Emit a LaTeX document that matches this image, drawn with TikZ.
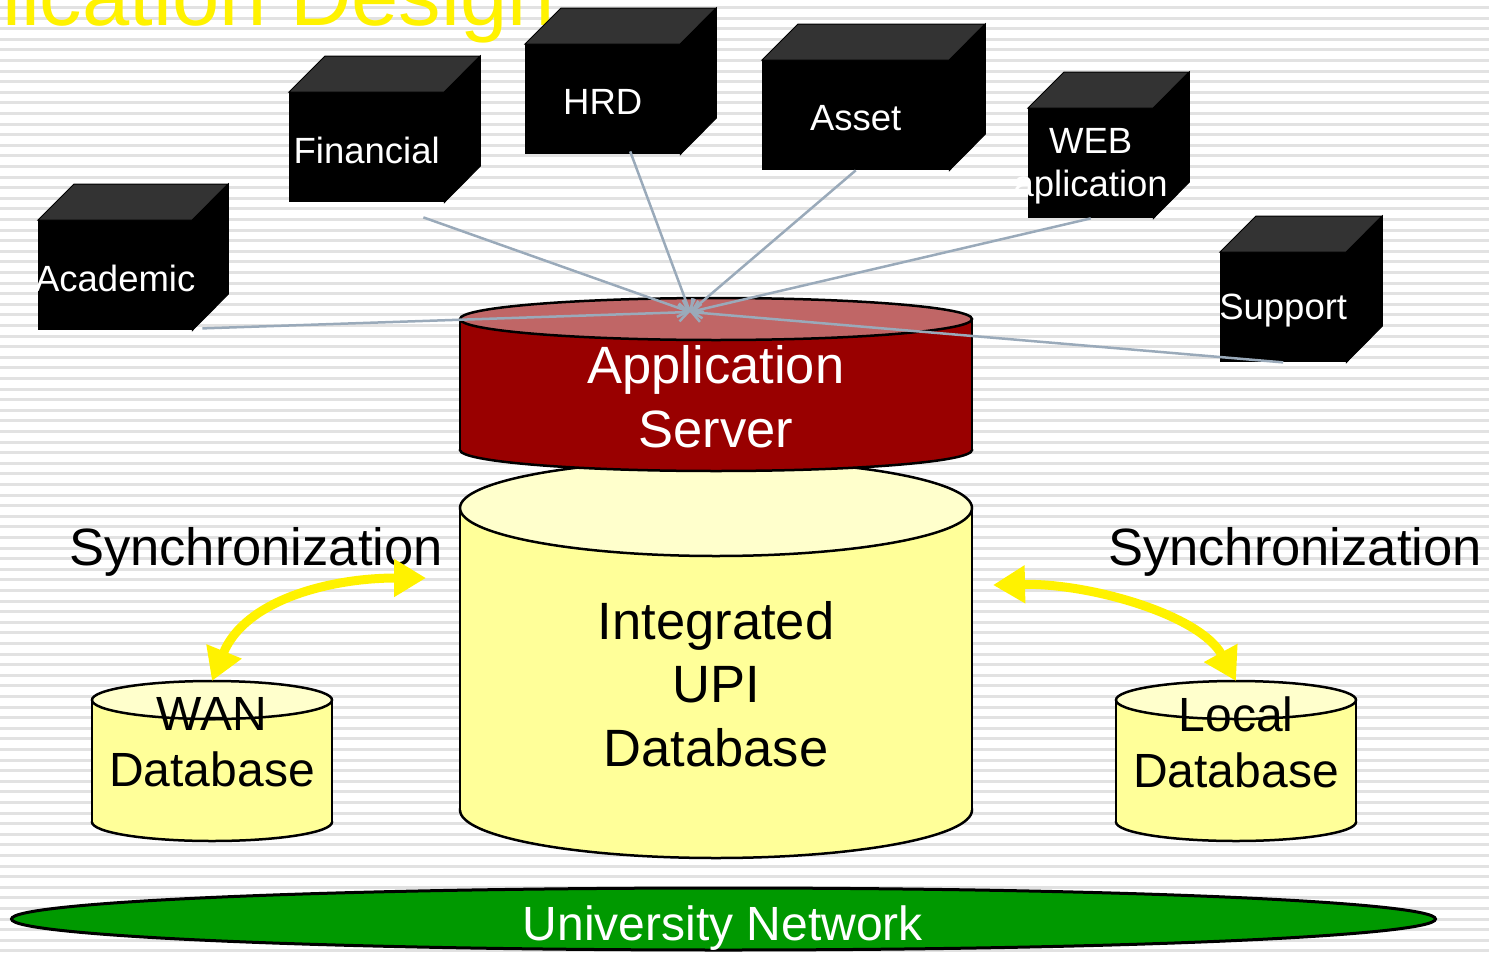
\documentclass[tikz,border=0pt]{standalone}
\usepackage{fontspec}
\setmainfont{Liberation Sans}
\usetikzlibrary{arrows.meta}

\definecolor{srvred}{HTML}{990000}
\definecolor{srvlid}{HTML}{C06666}
\definecolor{dbyellow}{HTML}{FFFF99}
\definecolor{dblid}{HTML}{FFFFCC}
\definecolor{cubegray}{HTML}{333333}
\definecolor{netgreen}{HTML}{009900}
\definecolor{linkgray}{HTML}{9AAABA}
\definecolor{stripegray}{HTML}{E2E2E2}

\tikzset{
  cube/.style={rectangle, fill=black, inner sep=0pt, minimum height=110pt},
  cubetext/.style={text=white, inner sep=0pt, align=center,
    font=\fontsize{36.5}{43}\selectfont},
  cubelid/.style={fill=cubegray, draw=black, line width=1pt},
  cubeside/.style={fill=black, draw=black, line width=1pt},
  cyl/.style={draw=black, line width=2.5pt},
  link/.style={draw=linkgray, line width=2.5pt,
    -{Straight Barb[length=9pt,width=18pt]}},
  sync/.style={draw=yellow, line width=9pt,
    {Triangle[length=32pt,width=36pt]}-{Triangle[length=32pt,width=36pt]}},
}

% name, left, top of front face, width, label
\newcommand\cubebox[5]{%
  \node [cube, minimum width=#4pt, anchor=north west] (#1) at (#2,#3) {};
  \filldraw [cubelid] (#1.north west) -- ++(36,-36) -- ++(#4,0) -- (#1.north east) -- cycle;
  \filldraw [cubeside] (#1.north east) -- ++(36,-36) -- ++(0,110) -- (#1.south east) -- cycle;
  \node [cubetext] (#1-text) at ([yshift=-3pt]#1.center) {#5};
}

% left, right, top, bottom, y radius, body colour, lid colour
\newcommand\dbcyl[7]{%
  \pgfmathsetmacro\cylrx{(#2-#1)/2}
  \pgfmathsetmacro\cylcx{(#2+#1)/2}
  \filldraw [cyl, fill=#6] (\cylcx,#4) ellipse [x radius=\cylrx, y radius=#5];
  \fill [#6] (#1,#3) rectangle (#2,#4);
  \draw [cyl] (#1,#3) -- (#1,#4) (#2,#3) -- (#2,#4);
  \filldraw [cyl, fill=#7] (\cylcx,#3) ellipse [x radius=\cylrx, y radius=#5];
}

\begin{document}
\begin{tikzpicture}[x=1pt, y=-1pt]
  \useasboundingbox (0,0) rectangle (1489,953);
  \clip (0,0) rectangle (1489,953);

  % striped background
  \foreach \k in {0,...,90}
    \draw [stripegray, line width=3pt] (0,{7.4+10.6*\k}) -- (1489,{7.4+10.6*\k});

  \node [anchor=base west, inner sep=0pt, text=yellow,
         font=\fontsize{85}{90}\selectfont] (title) at (2,25) {lication Design};

  % database and server
  \dbcyl{460}{972}{508}{810}{48}{dbyellow}{dblid}
  \dbcyl{460}{972}{319}{450}{21}{srvred}{srvlid}
  \dbcyl{92}{332}{700}{822}{19}{dbyellow}{dblid}
  \dbcyl{1116}{1356}{700}{822}{19}{dbyellow}{dblid}

  % modules
  \cubebox{acad}{38}{220}{154}{Academic}
  \cubebox{fin}{289}{92}{155}{Financial}
  \cubebox{hrd}{525}{44}{155}{HRD}
  \cubebox{asset}{762}{60}{187}{Asset}
  \cubebox{web}{1028}{108}{125}{WEB\\aplication}
  \cubebox{supp}{1220}{252}{126}{Support}

  \coordinate (hub) at (690,312);
  \draw [link] ([shift={(10,-2)}]acad.south east) -- (hub);
  \draw [link] ([shift={(-21,15)}]fin.south east) -- (hub);
  \draw [link] ([shift={(27.5,-3)}]hrd.south) -- (hub);
  \draw [link] (asset.south) -- (hub);
  \draw [link] (web.south) -- (hub);
  \draw [link] (supp.south) -- (hub);

  \node [text=white, align=center, font=\fontsize{52.5}{64}\selectfont]
    (appsrv) at (716,397) {Application\\Server};
  \node [align=center, font=\fontsize{52.5}{63.5}\selectfont]
    (udb) at (716,684) {Integrated\\UPI\\Database};
  \node [align=center, font=\fontsize{48}{56}\selectfont]
    (wan) at (212,742) {WAN\\Database};
  \node [align=center, font=\fontsize{48}{56}\selectfont]
    (local) at (1236,742) {Local\\Database};

  % synchronization
  \node [anchor=base, font=\fontsize{52.5}{60}\selectfont] (syncl) at (256,565) {Synchronization};
  \node [anchor=base, font=\fontsize{52.5}{60}\selectfont] (syncr) at (1295,565) {Synchronization};
  \coordinate (wantop) at (212,681);
  \coordinate (localtop) at (1236,681);
  \coordinate (udbleft) at (426,578);
  \coordinate (udbright) at (993,585);
  \draw [sync] (udbleft) .. controls (330,578) and (245,600) .. (wantop);
  \draw [sync] (udbright) .. controls (1090,583) and (1200,615) .. (localtop);

  % network
  \filldraw [fill=netgreen, draw=black, line width=3pt] (723.5,919) ellipse [x radius=712, y radius=31];
  \node [anchor=base, text=white, font=\fontsize{48}{56}\selectfont] (net) at (723,940) {University Network};
\end{tikzpicture}
\end{document}
